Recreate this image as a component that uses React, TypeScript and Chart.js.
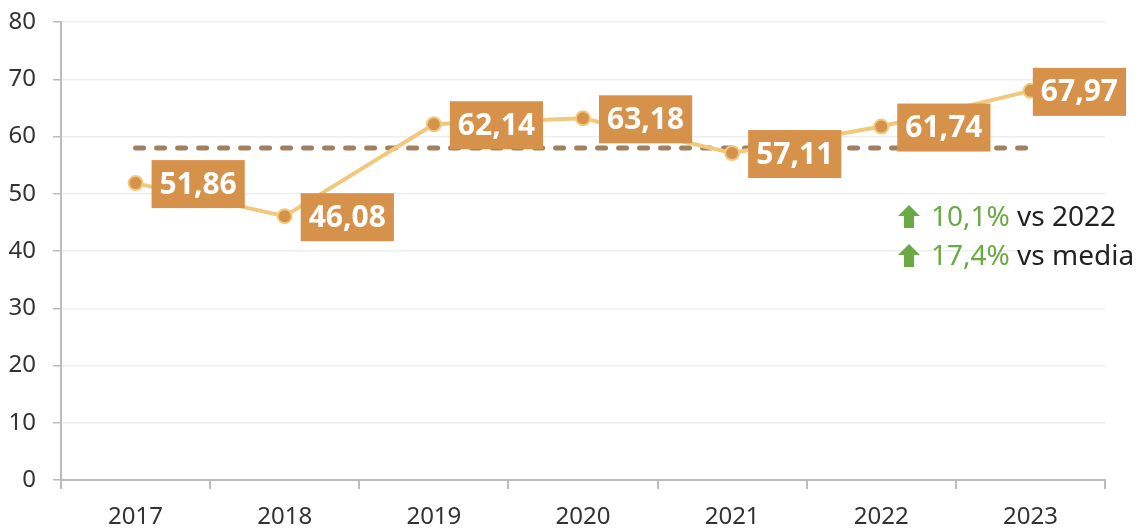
import React, { useEffect, useRef } from "react";
import { Chart, registerables } from "chart.js";

Chart.register(...registerables);

const years = ["2017", "2018", "2019", "2020", "2021", "2022", "2023"];
const values = [51.86, 46.08, 62.14, 63.18, 57.11, 61.74, 67.97];
const averageLine = [58, 58, 58, 58, 58, 58, 58];
const yTicks = { min: 0, max: 80, step: 10 };
const notes = [
  { pct: "10,1%", rest: " vs 2022" },
  { pct: "17,4%", rest: " vs media" },
];

const W = 1147;
const H = 529;

const labelPlugin = {
  id: "valueBoxes",
  afterDatasetsDraw(chart: any) {
    const ctx = chart.ctx;
    const meta = chart.getDatasetMeta(0);
    ctx.save();
    ctx.font = "bold 30px 'Noto Sans'";
    meta.data.forEach((pt: any, i: number) => {
      const txt = values[i].toFixed(2).replace(".", ",");
      const tw = ctx.measureText(txt).width;
      const w = tw + 16;
      const h = 48;
      const left = Math.min(pt.x + 16, chart.width - 21 - w);
      const top = pt.y + 1 - h / 2;
      ctx.fillStyle = "#D6914A";
      ctx.fillRect(left, top, w, h);
      ctx.fillStyle = "#ffffff";
      ctx.textBaseline = "middle";
      ctx.textAlign = "left";
      ctx.fillText(txt, left + 8, top + h / 2 + 1);
    });

    // annotation
    const lines = [217, 256];
    notes.forEach((n, i) => {
      const cy = lines[i];
      const ax = 898;
      ctx.fillStyle = "#6AAA45";
      ctx.beginPath();
      ctx.moveTo(ax + 11, cy - 12);
      ctx.lineTo(ax + 22, cy - 1);
      ctx.lineTo(ax + 16, cy - 1);
      ctx.lineTo(ax + 16, cy + 11);
      ctx.lineTo(ax + 6, cy + 11);
      ctx.lineTo(ax + 6, cy - 1);
      ctx.lineTo(ax, cy - 1);
      ctx.closePath();
      ctx.fill();
      ctx.font = "28px 'Noto Sans'";
      ctx.textBaseline = "middle";
      ctx.fillStyle = "#6AAA45";
      ctx.fillText(n.pct, 931, cy + 1);
      const pw = ctx.measureText(n.pct).width;
      ctx.fillStyle = "#222222";
      ctx.fillText(n.rest, 931 + pw, cy + 1);
    });
    ctx.restore();
  },
};

export default function App() {
  const ref = useRef<HTMLCanvasElement | null>(null);
  useEffect(() => {
    if (!ref.current) return;
    const chart = new Chart(ref.current, {
      type: "line",
      data: {
        labels: years,
        datasets: [
          {
            data: values,
            borderColor: "#F2C97C",
            borderWidth: 4,
            pointRadius: 7,
            pointBackgroundColor: "#D6914A",
            pointBorderColor: "#F2C97C",
            pointBorderWidth: 2,
            tension: 0,
          },
          {
            data: averageLine,
            borderColor: "#A08060",
            borderWidth: 5,
            borderDash: [8, 13],
            borderCapStyle: "round",
            pointRadius: 0,
          },
        ],
      },
      options: {
        animation: false,
        responsive: false,
        layout: { padding: { top: 22, right: 42, left: 0, bottom: 0 } },
        plugins: {
          legend: { display: false },
          tooltip: { enabled: false },
          title: { display: false },
        },
        scales: {
          x: {
            offset: true,
            grid: {
              offset: true,
              drawOnChartArea: false,
              drawTicks: true,
              tickLength: 9,
              color: "#bbbbbb",
              lineWidth: 2,
            },
            border: { color: "#bbbbbb", width: 2 },
            ticks: {
              font: { family: "'Noto Sans'", size: 24 },
              color: "#333333",
              padding: 14,
              maxRotation: 0,
            },
            afterFit: (s: any) => {
              s.height = 49;
              s.paddingTop = 0;
              s.paddingBottom = 0;
            },
          },
          y: {
            min: yTicks.min,
            max: yTicks.max,
            ticks: {
              stepSize: yTicks.step,
              font: { family: "'Noto Sans'", size: 24 },
              color: "#333333",
              padding: 17,
            },
            grid: {
              color: "#eeeeee",
              tickColor: "#bbbbbb",
              tickLength: 8,
              lineWidth: 1.5,
            },
            border: { color: "#bbbbbb", width: 2 },
            afterFit: (s: any) => {
              s.width = 61;
              s.paddingTop = 0;
              s.paddingBottom = 0;
            },
          },
        },
      },
      plugins: [labelPlugin],
    });
    return () => chart.destroy();
  }, []);
  return (
    <div style={{ position: "fixed", left: 0, top: 0, width: W, height: H, background: "#fff" }}>
      <canvas ref={ref} width={W} height={H} style={{ width: W, height: H, display: "block" }} />
    </div>
  );
}
